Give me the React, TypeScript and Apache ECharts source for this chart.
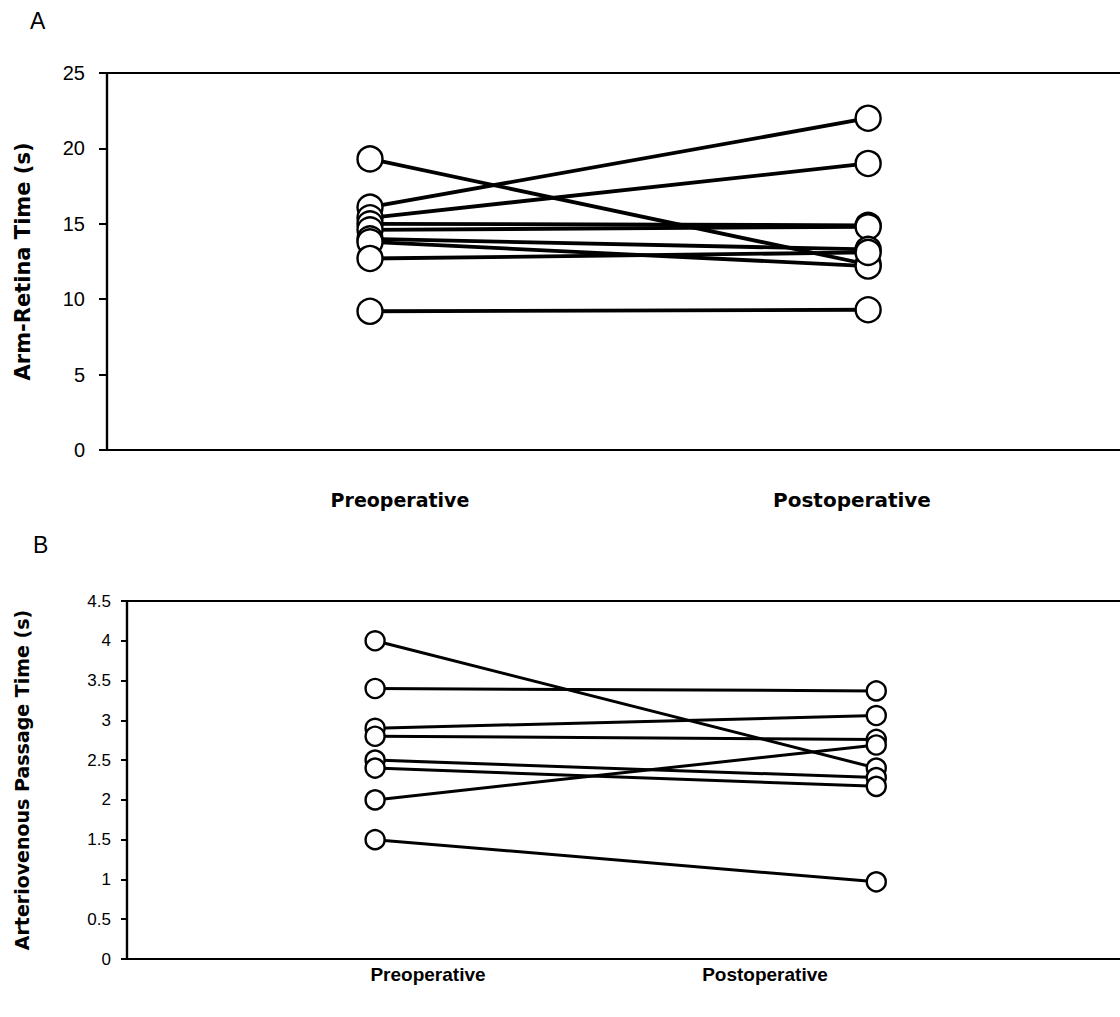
import React, { useEffect, useRef } from "react";
import * as echarts from "echarts";

// Panel A: Arm-Retina Time (s)
const categories = ["Preoperative", "Postoperative"];
const armRetinaPre = [19.3, 16.1, 15.4, 15.0, 14.6, 14.0, 13.8, 12.7, 9.2];
const armRetinaPost = [12.3, 22.0, 19.0, 14.9, 14.8, 13.3, 12.2, 13.1, 9.3];
// Panel B: Arteriovenous Passage Time (s)
const avPre = [4.0, 3.4, 2.9, 2.8, 2.5, 2.4, 2.0, 1.5];
const avPost = [2.4, 3.37, 3.06, 2.76, 2.28, 2.17, 2.69, 0.97];

const yTicksA = { min: 0, max: 25, interval: 5 };
const yTicksB = { min: 0, max: 4.5, interval: 0.5 };

export default function App() {
  const ref = useRef<HTMLDivElement>(null);
  useEffect(() => {
    if (!ref.current) return;
    const chart = echarts.init(ref.current, null, { renderer: "svg" });
    const font = "Liberation Sans, Arial, sans-serif";
    const wide = "DejaVu Sans, sans-serif";

    const lineSeries = (pre: number[], post: number[], gi: number, w: number) =>
      pre.map((v, i) => ({
        type: "line",
        xAxisIndex: gi,
        yAxisIndex: gi,
        data: [
          [0, v],
          [1, post[i]],
        ],
        showSymbol: false,
        symbol: "none",
        lineStyle: { color: "#000", width: w },
        z: 2,
        silent: true,
      }));
    const scatter = (pre: number[], post: number[], gi: number, size: number) => ({
      type: "scatter",
      xAxisIndex: gi,
      yAxisIndex: gi,
      data: [...pre.map((v) => [0, v]), ...post.map((v) => [1, v])],
      symbol: "circle",
      symbolSize: size,
      itemStyle: { color: "#fff", borderColor: "#000", borderWidth: 2.4, opacity: 1 },
      z: 5,
      silent: true,
    });

    chart.setOption({
      animation: false,
      backgroundColor: "#fff",
      grid: [
        { left: 107, top: 73, height: 377, right: 70, show: true, borderColor: "#000", borderWidth: 2.2, backgroundColor: "transparent" },
        { left: 127, top: 601, height: 358, right: 63, show: true, borderColor: "#000", borderWidth: 2.2, backgroundColor: "transparent" },
      ],
      xAxis: [
        { type: "value", gridIndex: 0, min: -0.528, max: 1.606, show: false },
        { type: "value", gridIndex: 1, min: -0.495, max: 1.6, show: false },
      ],
      yAxis: [
        {
          type: "value",
          gridIndex: 0,
          ...yTicksA,
          axisLine: { show: true, onZero: false, lineStyle: { color: "#000", width: 2.2 } },
          axisTick: { show: true, inside: false, length: 8, lineStyle: { color: "#000", width: 2 } },
          axisLabel: { color: "#000", fontSize: 20, fontFamily: font, margin: 22 },
          splitLine: { show: false },
          name: "Arm-Retina Time (s)",
          nameLocation: "middle",
          nameRotate: 90,
          nameGap: 74,
          nameTextStyle: { color: "#000", fontSize: 21, fontWeight: "bold", fontFamily: wide },
        },
        {
          type: "value",
          gridIndex: 1,
          ...yTicksB,
          axisLine: { show: true, onZero: false, lineStyle: { color: "#000", width: 2.2 } },
          axisTick: { show: true, inside: false, length: 6, lineStyle: { color: "#000", width: 2 } },
          axisLabel: { color: "#000", fontSize: 17, fontFamily: font, margin: 16 },
          splitLine: { show: false },
          name: "Arteriovenous Passage Time (s)",
          nameLocation: "middle",
          nameRotate: 90,
          nameGap: 96,
          nameTextStyle: { color: "#000", fontSize: 19, fontWeight: "bold", fontFamily: wide },
        },
      ],
      graphic: [
        { type: "text", left: 30, top: 9, style: { text: "A", fontSize: 23, fontFamily: font, fill: "#000" } },
        { type: "text", left: 33, top: 533, style: { text: "B", fontSize: 23, fontFamily: font, fill: "#000" } },
        { type: "text", x: 400, y: 500, style: { text: categories[0], fontSize: 19, fontWeight: "bold", fontFamily: wide, fill: "#000", align: "center", verticalAlign: "middle" } },
        { type: "text", x: 852, y: 500, style: { text: categories[1], fontSize: 20, fontWeight: "bold", fontFamily: wide, fill: "#000", align: "center", verticalAlign: "middle" } },
        { type: "text", x: 428, y: 974, style: { text: categories[0], fontSize: 19, fontWeight: "bold", fontFamily: font, fill: "#000", align: "center", verticalAlign: "middle" } },
        { type: "text", x: 765, y: 974, style: { text: categories[1], fontSize: 19, fontWeight: "bold", fontFamily: font, fill: "#000", align: "center", verticalAlign: "middle" } },
      ],
      series: [
        ...lineSeries(armRetinaPre, armRetinaPost, 0, 3.8),
        scatter(armRetinaPre, armRetinaPost, 0, 25),
        ...lineSeries(avPre, avPost, 1, 3),
        scatter(avPre, avPost, 1, 19),
      ],
    });
    return () => chart.dispose();
  }, []);
  return (
    <div
      ref={ref}
      style={{ position: "fixed", left: 0, top: 0, width: 1240, height: 1017, background: "#fff" }}
    />
  );
}
